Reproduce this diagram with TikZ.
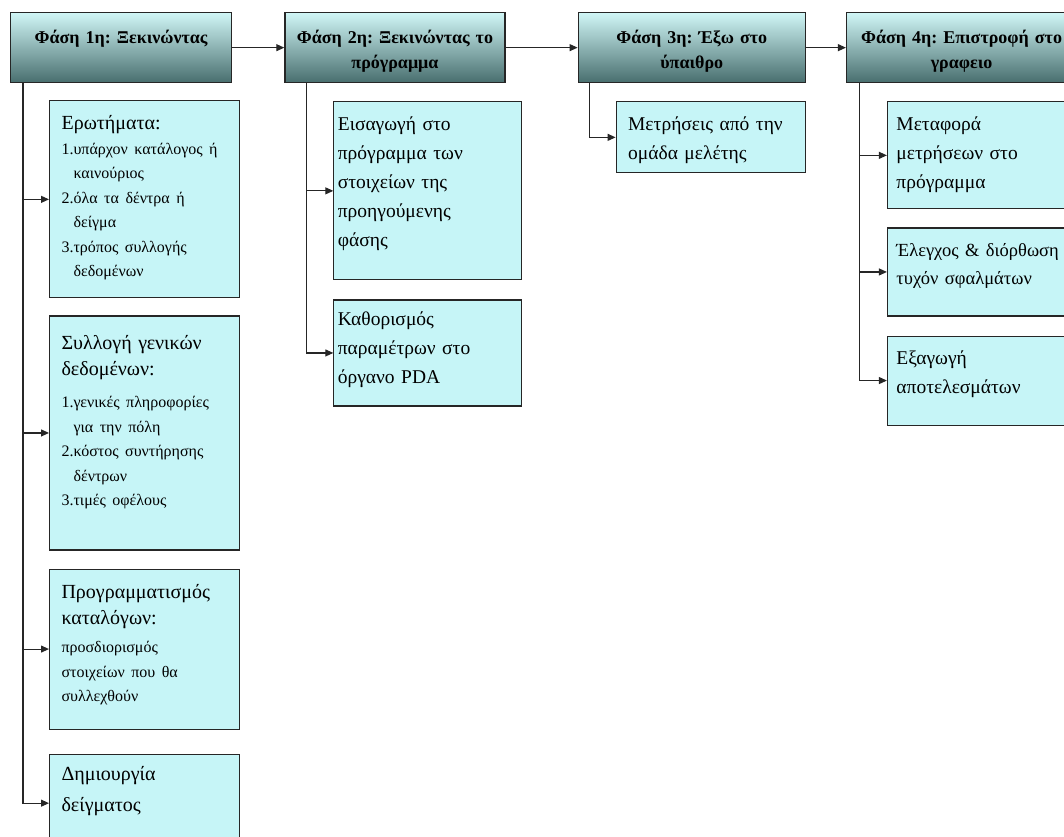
\documentclass[tikz,border=0pt]{standalone}
\usepackage{fontspec}
\setmainfont{Liberation Serif}
\usepackage{xcolor}
\usepackage{tikz}
\usetikzlibrary{positioning}
\usetikzlibrary{arrows.meta}
\frenchspacing

\definecolor{headtop}{RGB}{208,246,246}
\definecolor{headmid}{RGB}{160,204,204}
\definecolor{headbot}{RGB}{72,110,110}
\definecolor{subfill}{RGB}{198,245,247}

% text held at the top of a box of fixed height
\newcommand{\topbox}[2]{\vbox to #1{#2\par\vfil}}
\newcommand{\itm}[1]{\par\hangindent=12pt\hangafter=1\noindent #1\par}
\newcommand{\ttl}{\fontsize{20}{26}\selectfont}
\newcommand{\lst}{\fontsize{16}{24.5}\selectfont}

\begin{document}
\begin{tikzpicture}[
  phase/.style={draw=black!85, line width=1.3pt, top color=headtop, middle color=headmid, bottom color=headbot,
    align=center, inner xsep=3pt, inner ysep=17pt, font=\fontsize{18}{25}\selectfont\bfseries},
  sub/.style={draw=black!85, line width=1.1pt, fill=subfill, align=left, inner xsep=12pt, inner ysep=15pt,
    text width=166pt, font=\fontsize{19.5}{29}\selectfont},
  tight/.style={inner xsep=4pt, text width=180pt},
  wide/.style={inner xsep=9pt, text width=192pt},
  conn/.style={black!85, line width=1.1pt, -{Triangle[length=8pt,width=7pt]}}]
\useasboundingbox (0,0) rectangle (1064pt,-836pt);

% phases
\node[phase, anchor=north west, text width=215pt] (p1) at (10pt,-12pt) {\topbox{36pt}{Φάση 1η: Ξεκινώντας}};
\node[phase, right=52pt of p1, text width=214pt] (p2) {\topbox{36pt}{Φάση 2η: Ξεκινώντας το\\πρόγραμμα}};
\node[phase, right=72pt of p2, text width=221pt] (p3) {\topbox{36pt}{Φάση 3η: Έξω στο\\ύπαιθρο}};
\node[phase, right=40pt of p3, text width=224pt] (p4) {\topbox{36pt}{Φάση 4η: Επιστροφή στο\\γραφειο}};

\coordinate (t1) at ([xshift=13pt]p1.south west);
\coordinate (t2) at ([xshift=22pt]p2.south west);
\coordinate (t3) at ([xshift=12pt]p3.south west);
\coordinate (t4) at ([xshift=14pt]p4.south west);

% phase 1
\node[sub, below right=17pt and 39pt of p1.south west] (q1) {\topbox{167pt}{{\ttl Ερωτήματα:\par}\lst
  \itm{1.υπάρχον κατάλογος ή\newline καινούριος}
  \itm{2.όλα τα δέντρα ή\newline δείγμα}
  \itm{3.τρόπος συλλογής\newline δεδομένων}}};
\node[sub, below=17pt of q1] (gen) {\topbox{204pt}{\vspace*{4pt}{\ttl Συλλογή γενικών\newline δεδομένων:\par}\vspace{8pt}\lst
  \itm{1.γενικές πληροφορίες\newline για την πόλη}
  \itm{2.κόστος συντήρησης\newline δέντρων}
  \itm{3.τιμές οφέλους}}};
\node[sub, below=18pt of gen] (cat) {\topbox{130pt}{{\ttl Προγραμματισμός\newline καταλόγων:\par}\vspace{4pt}\lst
  προσδιορισμός\newline στοιχείων που θα\newline συλλεχθούν}};
\node[sub, below=24pt of cat, inner ysep=12pt] (smp) {\topbox{74pt}{\fontsize{20}{31}\selectfont Δημιουργία\newline δείγματος}};

% phase 2
\node[sub, tight, below right=18pt and 49pt of p2.south west] (ins) {\topbox{148pt}{Εισαγωγή στο\newline πρόγραμμα των\newline στοιχείων της\newline προηγούμενης\newline φάσης}};
\node[sub, tight, below=19pt of ins, inner ysep=12pt] (pda) {\topbox{82pt}{Καθορισμός\newline παραμέτρων στο\newline όργανο PDA}};

% phase 3
\node[sub, below right=18pt and 38pt of p3.south west, text width=165pt] (mes) {\topbox{41pt}{Μετρήσεις από την\newline ομάδα μελέτης}};

% phase 4
\node[sub, wide, below right=18pt and 41pt of p4.south west] (mov) {\topbox{77pt}{Μεταφορά\newline μετρήσεων στο\newline πρόγραμμα}};
\node[sub, wide, below=18pt of mov] (chk) {\topbox{58pt}{\fontsize{18.5}{28}\selectfont Έλεγχος \& διόρθωση\newline τυχόν σφαλμάτων}};
\node[sub, wide, below=19pt of chk] (out) {\topbox{59pt}{Εξαγωγή\newline αποτελεσμάτων}};

% connectors
\draw[conn] (p1) -- (p2);
\draw[conn] (p2) -- (p3);
\draw[conn] (p3) -- (p4);
\foreach \c in {q1,gen,cat,smp} \draw[conn] (t1) |- (\c.west);
\foreach \c in {ins,pda} \draw[conn] (t2) |- (\c.west);
\draw[conn] (t3) |- (mes.west);
\foreach \c in {mov,chk,out} \draw[conn] (t4) |- (\c.west);
\end{tikzpicture}
\end{document}
